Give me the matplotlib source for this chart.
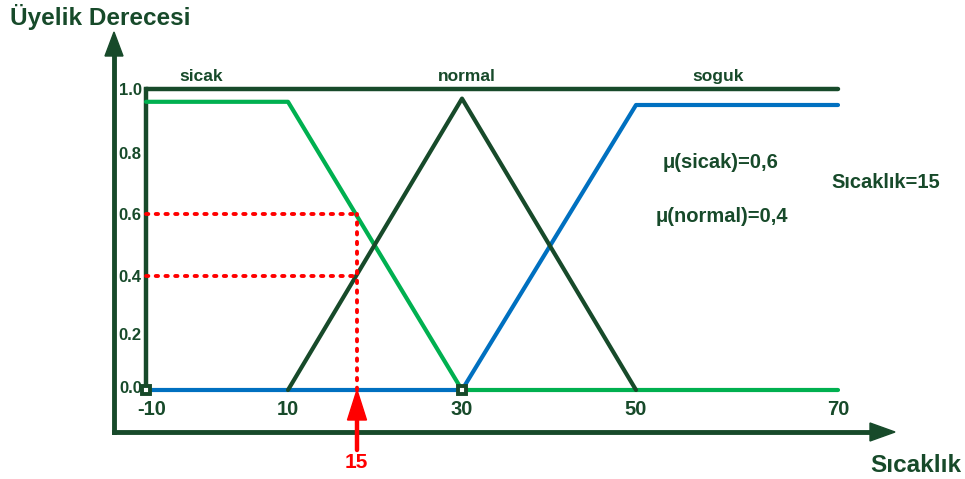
import numpy as np
import matplotlib
matplotlib.use("Agg")
import matplotlib.pyplot as plt
from matplotlib.transforms import ScaledTranslation

plt.rcParams['font.family'] = ['Liberation Sans', 'DejaVu Sans']
plt.rcParams['font.weight'] = 'bold'

# sıcaklık ekseni ve üyelik fonksiyonları
temps = [-10, 10, 30, 50, 70]
mu_ticks = [0.0, 0.2, 0.4, 0.6, 0.8, 1.0]
mu_labels = ['0.0', '0.2', '0.4', '0.6', '0.8', '1.0']

sicak_x = [-10, 10, 30, 70]
sicak_y = [0.96, 0.96, 0.0, 0.0]
normal_x = [10, 30, 50]
normal_y = [0.0, 0.97, 0.0]
soguk_x = [-10, 30, 50, 70]
soguk_y = [0.0, 0.0, 0.95, 0.95]

reading = 15
mu_sicak = 0.6
mu_normal = 0.4

DARK = '#174a2a'
GREEN = '#00b050'
BLUE = '#0070c0'
RED = '#ff0000'

W, H = 965, 479
fig = plt.figure(figsize=(W / 100, H / 100), dpi=100)

# elle çizilmiş eksen aralıkları eşit değil, parçalı doğrusal ölçekler
scale_x = [-10, 10, reading, 30, 50, 70]
scale_xpx = [146, 288, 357, 462, 636, 838]
scale_y = mu_ticks
scale_ypx = [89, 145, 203, 265, 326, 390]


def piecewise(src, dst):
    return (lambda v: np.interp(v, src, dst), lambda p: np.interp(p, dst, src))


ax = fig.add_axes([146 / W, 89 / H, (838 - 146) / W, 301 / H])
ax.set_xscale('function', functions=piecewise(scale_x, scale_xpx))
ax.set_yscale('function', functions=piecewise(scale_y, scale_ypx))
ax.set_xlim(-10, 70)
ax.set_ylim(0, 1)
for s in ax.spines.values():
    s.set_visible(False)
ax.set_xticks(temps)
ax.set_xticklabels([str(t) for t in temps], fontsize=14.5, color=DARK, fontweight='bold')
ax.set_yticks(mu_ticks)
ax.set_yticklabels(mu_labels, fontsize=12, color=DARK, fontweight='bold')
ax.tick_params(axis='both', length=0)
ax.tick_params(axis='x', pad=7)
ax.tick_params(axis='y', pad=3)
ax.minorticks_off()
# "-10" etiketi biraz sağa kayık
lbl = ax.get_xticklabels()[0]
lbl.set_transform(lbl.get_transform() + ScaledTranslation(6 / 100, 0, fig.dpi_scale_trans))
# "0.0" etiketi biraz yukarıda
lbl = ax.get_yticklabels()[0]
lbl.set_transform(lbl.get_transform() + ScaledTranslation(0, 3 / 100, fig.dpi_scale_trans))

# çerçeve: 1.0 çizgisi ve sol dikey çizgi
ax.plot([-10, 70], [1.0, 1.0], color=DARK, lw=3.2, solid_capstyle='round', clip_on=False)
ax.plot([-10, -10], [0.0, 1.0], color=DARK, lw=3.2, clip_on=False)

ax.plot(soguk_x, soguk_y, color=BLUE, lw=3, solid_capstyle='round', clip_on=False, zorder=3)
ax.plot(sicak_x, sicak_y, color=GREEN, lw=3, solid_capstyle='round', clip_on=False, zorder=4)
ax.plot(normal_x, normal_y, color=DARK, lw=3, solid_capstyle='round', clip_on=False, zorder=5)

# kesik kırmızı çizgiler
dash = dict(color=RED, lw=2.8, dashes=(0.6, 1.9), dash_capstyle='round', zorder=6, clip_on=False)
ax.plot([-10, reading], [mu_sicak, mu_sicak], **dash)
ax.plot([-10, reading], [mu_normal, mu_normal], **dash)
ax.plot([reading, reading], [0, mu_sicak], **dash)

# küçük kare işaretler
ax.plot([-10, 30], [0, 0], ls='none', marker='s', ms=5.5, mfc='white', mec=DARK, mew=2.8,
        zorder=7, clip_on=False)

# eksen okları
ov = fig.add_axes([0, 0, 1, 1])
ov.set_xlim(0, W)
ov.set_ylim(H, 0)
ov.axis('off')
ov.patch.set_alpha(0)
ov.plot([114, 114], [432, 55], color=DARK, lw=3.5)
ov.plot([114, 872], [432, 432], color=DARK, lw=3.5)
ov.fill([105, 123, 114], [56, 56, 32], color=DARK)
ov.fill([870, 870, 895], [423, 441, 432], color=DARK)

# okunan değer oku
ov.plot([357, 357], [418, 450], color=RED, lw=3.2, solid_capstyle='round')
ov.fill([347.5, 366.5, 357], [420, 420, 390], color=RED)
ov.text(356, 463, str(reading), color=RED, fontsize=15, fontweight='bold', ha='center', va='center')

ov.text(10, 17, 'Üyelik Derecesi', color=DARK, fontsize=17.5, fontweight='bold', va='center')
ov.text(870, 465, 'Sıcaklık', color=DARK, fontsize=17.5, fontweight='bold', va='center')

for name, xp in [('sicak', 201), ('normal', 467), ('soguk', 718)]:
    ov.text(xp, 76, name, color=DARK, fontsize=12.5, fontweight='bold', ha='center', va='center')

ov.text(721, 163, 'μ(sicak)=0,6', color=DARK, fontsize=14.5, fontweight='bold', ha='center', va='center')
ov.text(722, 217, 'μ(normal)=0,4', color=DARK, fontsize=14.5, fontweight='bold', ha='center', va='center')
ov.text(886, 183, 'Sıcaklık=15', color=DARK, fontsize=14.5, fontweight='bold', ha='center', va='center')

fig.savefig('out.png', dpi=100)
